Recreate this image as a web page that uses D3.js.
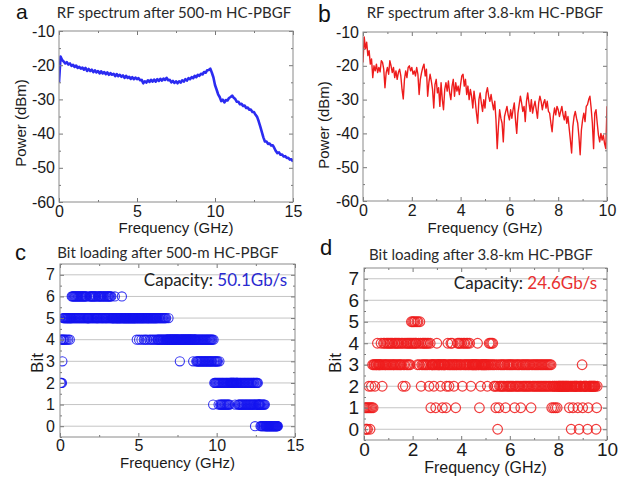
<!DOCTYPE html>
<html><head><meta charset="utf-8">
<script src="https://cdn.jsdelivr.net/npm/d3@7"></script>
<style>body{margin:0;background:#fff}svg{display:block}</style>
</head><body>
<svg id="fig" width="629" height="477"></svg>
<script>
// ---------- DATA ----------
// Panel a: RF spectrum after 500-m HC-PBGF (dBm), 0..15 GHz, step 0.1 GHz
const specAStep = 0.1;
const specA = [
 -25.0,-17.5,-18.5,-18.9,-19.5,-19.1,-19.8,-19.5,-20.2,-19.9,
 -20.5,-20.1,-20.8,-20.5,-21.0,-20.7,-21.3,-20.8,-21.7,-21.1,
 -21.7,-21.3,-22.0,-21.5,-22.1,-21.7,-22.4,-21.8,-22.4,-22.0,
 -22.6,-22.1,-22.8,-22.3,-22.8,-22.5,-23.2,-22.6,-23.2,-22.8,
 -23.4,-23.0,-23.7,-23.1,-23.7,-23.4,-24.0,-23.5,-24.1,-23.6,
 -24.1,-23.8,-24.4,-24.3,-25.3,-24.7,-25.1,-24.4,-24.9,-24.3,
 -24.8,-24.2,-24.8,-24.1,-24.6,-24.0,-24.5,-23.9,-24.3,-23.7,
 -24.4,-24.3,-25.0,-24.6,-25.2,-24.7,-25.3,-24.7,-25.1,-24.4,
 -24.8,-24.1,-24.5,-23.8,-24.1,-23.5,-23.8,-23.1,-23.5,-22.8,
 -23.1,-22.5,-22.7,-22.0,-22.2,-21.5,-21.4,-21.0,-22.2,-23.6,
 -25.8,-27.1,-28.5,-29.3,-30.5,-30.1,-30.9,-30.2,-30.3,-29.6,
 -29.3,-28.9,-29.5,-29.9,-30.7,-30.7,-31.4,-31.3,-31.9,-31.8,
 -32.5,-32.4,-33.0,-33.0,-33.7,-33.7,-34.5,-35.1,-36.4,-37.9,
 -39.5,-41.1,-42.3,-42.3,-43.0,-42.9,-43.5,-43.4,-44.2,-45.1,
 -45.7,-45.5,-46.2,-46.1,-46.7,-46.6,-47.1,-47.1,-47.6,-47.5,
 -48.2
];
// Panel b: RF spectrum after 3.8-km HC-PBGF (dBm), 0..10 GHz, step 0.05 GHz
const specBStep = 0.05;
const specB = [
 -19.0,-11.5,-15.0,-13.0,-17.0,-15.5,-19.5,-18.0,-23.5,-20.0,
 -21.5,-19.5,-22.0,-20.5,-21.8,-18.5,-19.0,-21.0,-26.5,-22.0,
 -20.5,-22.5,-18.5,-20.0,-22.0,-20.5,-23.5,-21.5,-24.0,-22.0,
 -21.0,-23.0,-27.0,-29.8,-24.0,-21.5,-23.5,-20.5,-20.0,-21.5,
 -20.5,-22.5,-21.5,-23.0,-20.5,-22.5,-28.5,-24.0,-22.0,-20.5,
 -19.5,-23.0,-21.0,-29.0,-25.0,-22.5,-24.5,-27.0,-32.5,-25.5,
 -24.0,-28.0,-26.5,-32.0,-25.0,-30.0,-33.0,-27.0,-25.0,-27.5,
 -24.5,-28.0,-30.0,-26.0,-24.0,-29.0,-25.0,-27.5,-26.0,-28.5,
 -25.5,-23.0,-22.5,-26.0,-24.0,-28.5,-26.0,-30.0,-27.0,-29.0,
 -32.5,-27.5,-30.5,-34.0,-37.0,-30.0,-28.0,-31.0,-33.5,-30.0,
 -32.5,-28.0,-26.5,-29.0,-30.5,-28.5,-31.0,-33.0,-30.5,-36.0,
 -44.5,-38.0,-33.0,-35.5,-37.0,-42.5,-35.0,-33.5,-32.0,-34.5,
 -36.0,-33.0,-35.5,-33.0,-31.0,-36.0,-40.0,-34.0,-31.5,-29.0,
 -31.0,-33.5,-32.0,-36.5,-30.5,-28.0,-31.0,-33.5,-30.0,-34.0,
 -32.0,-30.5,-33.0,-35.5,-31.0,-29.0,-30.5,-33.0,-31.0,-30.0,
 -32.5,-30.5,-33.5,-34.0,-37.0,-39.5,-35.0,-32.5,-34.5,-32.0,
 -33.0,-35.0,-33.5,-32.0,-34.5,-36.0,-33.5,-37.0,-35.0,-38.5,
 -42.0,-45.8,-38.0,-35.0,-33.5,-35.5,-37.0,-41.0,-46.3,-39.0,
 -36.0,-34.0,-36.5,-32.0,-31.5,-30.0,-29.0,-32.5,-37.0,-44.5,
 -34.0,-33.0,-37.0,-40.5,-42.5,-40.0,-42.0,-40.5,-43.0,-44.5,
 -32.0
];
// Panel c: bits per subcarrier after 500-m; subcarriers every 0.025 GHz from 0.025 GHz
// (one digit per subcarrier, one row per GHz)
const bitStepC = 0.025;
const bitRowsC = [
 "2424234545"+"4554554555"+"4555455556"+"5656565656",
 "5656565656"+"5656565656"+"5656565655"+"5555656565",
 "6565656565"+"6565556565"+"6565656556"+"5656565565",
 "6565656565"+"6555555556"+"5555555555"+"5555555655",
 "5555555555"+"5555555555"+"5555555555"+"5555545555",
 "5455555455"+"5554555455"+"5455555455"+"5455545554",
 "5554555454"+"5454545454"+"5454545454"+"5444445444",
 "4444444444"+"4444444444"+"4444434444"+"4444444444",
 "4444444444"+"4444444443"+"4444444343"+"4343434343",
 "4343434343"+"4343434343"+"4343434343"+"1432323232",
 "3232123212"+"1212121212"+"1212121212"+"1212222222",
 "2222221222"+"2222121212"+"1212121212"+"1212121212",
 "1212121212"+"1212121021"+"2121211111"+"1010101010",
 "1010000000"+"0000000000"+"0000000000"+"000000"
];
// Panel d: bits per subcarrier after 3.8-km; subcarriers every 0.025 GHz from 0.025 GHz
const bitStepD = 0.025;
const bitRowsD = [
 "1010101210"+"1213133233"+"3433333432"+"3434334343",
 "4343434334"+"3434343433"+"4342343243"+"4343434545",
 "4545445354"+"3542343434"+"3434342341"+"3333233134",
 "3333323313"+"3333123432"+"3343433233"+"1334343433",
 "4234343343"+"4334323333"+"3333334331"+"3233333333",
 "3323343434"+"3432321320"+"3123232323"+"2312323232",
 "3232323123"+"2323232132"+"3232323232"+"3232132323",
 "2323232323"+"2323232323"+"2323232312"+"2122122122",
 "2222222222"+"2222222122"+"0221222222"+"2120222231",
 "2222222012"+"2222222222"+"2012"
];
const bitsC = bitRowsC.join("").split("").map(Number);
const bitsD = bitRowsD.join("").split("").map(Number);

const powerTicks = [-10,-20,-30,-40,-50,-60];
const powerMinor = [-15,-25,-35,-45,-55];
const freqTicks15 = [0,5,10,15];
const freqMinor15 = [2.5,7.5,12.5];
const freqTicks10 = [0,2,4,6,8,10];
const freqMinor10 = [1,3,5,7,9];
const bitTicks = [0,1,2,3,4,5,6,7];
const bitMinor = [-0.5,0.5,1.5,2.5,3.5,4.5,5.5,6.5,7.5];

const titles = ["RF spectrum after 500-m HC-PBGF","RF spectrum after 3.8-km HC-PBGF",
                "Bit loading after 500-m HC-PBGF","Bit loading after 3.8-km HC-PBGF"];
const capacities = ["50.1Gb/s","24.6Gb/s"];

// ---------- DRAW ----------
const svg = d3.select("#fig");
const TXT = "'Liberation Sans', Arial, sans-serif";
const CAL = "Lato, 'Open Sans', sans-serif";
const BLUE = "#1414f0", RED = "#ee1c1c";

function panel(o) {
  const g = svg.append("g");
  const x = d3.scaleLinear().domain(o.xd).range([o.l, o.r]);
  const y = d3.scaleLinear().domain(o.yd).range([o.b, o.t]);
  const id = "clip" + o.name;
  svg.append("clipPath").attr("id", id).append("rect")
    .attr("x", o.l).attr("y", o.t).attr("width", o.r - o.l).attr("height", o.b - o.t);
  if (o.grid) {
    g.append("g").selectAll("line").data(o.yTicks).join("line")
      .attr("x1", o.l).attr("x2", o.r).attr("y1", d => y(d)).attr("y2", d => y(d))
      .attr("stroke", "#c4c4c4").attr("stroke-width", 1);
  }
  const data = g.append("g").attr("clip-path", `url(#${id})`);
  const fmt = d => String(d);
  const ax = g.append("g");
  const tk = 4;
  ax.append("g").attr("transform", `translate(0,${o.b})`)
    .call(d3.axisBottom(x).tickValues(o.xTicks).tickFormat(fmt).tickSizeInner(-tk).tickSizeOuter(0).tickPadding(o.xpad))
    .attr("font-size", o.fs).attr("font-family", TXT);
  ax.append("g").attr("transform", `translate(0,${o.t})`)
    .call(d3.axisTop(x).tickValues(o.xTicks).tickFormat("").tickSizeInner(-tk).tickSizeOuter(0));
  ax.append("g").attr("transform", `translate(${o.l},0)`)
    .call(d3.axisLeft(y).tickValues(o.yTicks).tickFormat(fmt).tickSizeInner(-tk).tickSizeOuter(0).tickPadding(o.ypad))
    .attr("font-size", o.fs).attr("font-family", TXT);
  ax.append("g").attr("transform", `translate(${o.r},0)`)
    .call(d3.axisRight(y).tickValues(o.yTicks).tickFormat("").tickSizeInner(-tk).tickSizeOuter(0));
  ax.append("g").attr("transform", `translate(0,${o.b})`)
    .call(d3.axisBottom(x).tickValues(o.xMinor).tickFormat("").tickSizeInner(-2).tickSizeOuter(0));
  ax.append("g").attr("transform", `translate(0,${o.t})`)
    .call(d3.axisTop(x).tickValues(o.xMinor).tickFormat("").tickSizeInner(-2).tickSizeOuter(0));
  ax.append("g").attr("transform", `translate(${o.l},0)`)
    .call(d3.axisLeft(y).tickValues(o.yMinor).tickFormat("").tickSizeInner(-2).tickSizeOuter(0));
  ax.append("g").attr("transform", `translate(${o.r},0)`)
    .call(d3.axisRight(y).tickValues(o.yMinor).tickFormat("").tickSizeInner(-2).tickSizeOuter(0));
  ax.selectAll(".domain").remove();
  ax.selectAll(".tick line").attr("stroke", "#777");
  ax.selectAll(".tick text").attr("fill", "#1a1a1a");
  g.append("rect").attr("x", o.l).attr("y", o.t).attr("width", o.r - o.l).attr("height", o.b - o.t)
    .attr("fill", "none").attr("stroke", "#8a8a8a").attr("stroke-width", 1);
  g.append("text").attr("x", (o.l + o.r) / 2).attr("y", o.xlY).attr("text-anchor", "middle")
    .attr("font-family", TXT).attr("font-size", o.xlFs).attr("fill", "#1a1a1a").text(o.xlabel);
  g.append("text").attr("transform", `translate(${o.ylX},${o.ylY}) rotate(-90)`).attr("text-anchor", "middle")
    .attr("font-family", TXT).attr("font-size", o.ylFs).attr("fill", "#1a1a1a").text(o.ylabel);
  g.append("text").attr("x", o.tX).attr("y", o.tY).attr("text-anchor", "middle")
    .attr("font-family", CAL).attr("font-size", o.tFs).attr("fill", "#2a2a2a").text(o.title);
  g.append("text").attr("x", o.lX).attr("y", o.lY)
    .attr("font-family", TXT).attr("font-size", o.lFs).attr("fill", "#111").text(o.letter);
  return { g, x, y, data };
}

// Panel a
const pa = panel({name:"a", l:59, r:293, t:31, b:202, xd:[0,15], yd:[-60,-10],
  xTicks:freqTicks15, xMinor:freqMinor15, yTicks:powerTicks, yMinor:powerMinor,
  fs:16, xpad:4, ypad:4, xlabel:"Frequency (GHz)", xlY:233, xlFs:15,
  ylabel:"Power (dBm)", ylX:26, ylY:123, ylFs:15,
  title:titles[0], tX:174, tY:18, tFs:15, letter:"a", lX:16, lY:19, lFs:21});
pa.data.append("path").datum(specA)
  .attr("fill", "none").attr("stroke", BLUE).attr("stroke-width", 2.6).attr("stroke-linejoin", "round")
  .attr("stroke-opacity", 0.9)
  .attr("d", d3.line().x((d, i) => pa.x(i * specAStep)).y(d => pa.y(d)));

// Panel b
const pb = panel({name:"b", l:363, r:607, t:32, b:201, xd:[0,10], yd:[-60,-10],
  xTicks:freqTicks10, xMinor:freqMinor10, yTicks:powerTicks, yMinor:powerMinor,
  fs:16, xpad:4, ypad:4, xlabel:"Frequency (GHz)", xlY:233, xlFs:15,
  ylabel:"Power (dBm)", ylX:329, ylY:125, ylFs:15,
  title:titles[1], tX:485, tY:18, tFs:15, letter:"b", lX:318, lY:22, lFs:23});
pb.data.append("path").datum(specB)
  .attr("fill", "none").attr("stroke", RED).attr("stroke-width", 1.4).attr("stroke-linejoin", "round")
  .attr("d", d3.line().x((d, i) => pb.x(i * specBStep)).y(d => pb.y(d)));

// Panel c
const pc = panel({name:"c", l:60, r:295, t:264, b:437, xd:[0,15], yd:[-0.5,7.5], grid:true,
  xTicks:freqTicks15, xMinor:freqMinor15, yTicks:bitTicks, yMinor:bitMinor,
  fs:16, xpad:3, ypad:5, xlabel:"Frequency (GHz)", xlY:468, xlFs:15,
  ylabel:"Bit", ylX:43, ylY:363, ylFs:17,
  title:titles[2], tX:168, tY:258, tFs:15, letter:"c", lX:15, lY:260, lFs:22});
pc.data.selectAll("circle").data(bitsC).join("circle")
  .attr("cx", (d, i) => pc.x((i + 1) * bitStepC)).attr("cy", d => pc.y(d)).attr("r", 4.6)
  .attr("fill", "none").attr("stroke", BLUE).attr("stroke-width", 1.1).attr("stroke-opacity", 0.85);
const capC = pc.g.append("text").attr("x", 287).attr("y", 286).attr("text-anchor", "end")
  .attr("font-family", CAL).attr("font-size", 17);
capC.append("tspan").attr("fill", "#222").text("Capacity: ");
capC.append("tspan").attr("fill", "#2a2ad0").text(capacities[0]);

// Panel d
const pd = panel({name:"d", l:364, r:607, t:268, b:440, xd:[0,10], yd:[-0.5,7.5], grid:true,
  xTicks:freqTicks10, xMinor:freqMinor10, yTicks:bitTicks, yMinor:bitMinor,
  fs:19, xpad:2, ypad:5, xlabel:"Frequency (GHz)", xlY:473, xlFs:16,
  ylabel:"Bit", ylX:341, ylY:363, ylFs:17,
  title:titles[3], tX:481, tY:260, tFs:15, letter:"d", lX:320, lY:255, lFs:22});
pd.data.selectAll("circle").data(bitsD).join("circle")
  .attr("cx", (d, i) => pd.x((i + 1) * bitStepD)).attr("cy", d => pd.y(d)).attr("r", 4.8)
  .attr("fill", "none").attr("stroke", RED).attr("stroke-width", 1.2).attr("stroke-opacity", 0.85);
const capD = pd.g.append("text").attr("x", 597).attr("y", 289).attr("text-anchor", "end")
  .attr("font-family", CAL).attr("font-size", 17);
capD.append("tspan").attr("fill", "#222").text("Capacity: ");
capD.append("tspan").attr("fill", "#e83030").text(capacities[1]);
</script>
</body></html>
